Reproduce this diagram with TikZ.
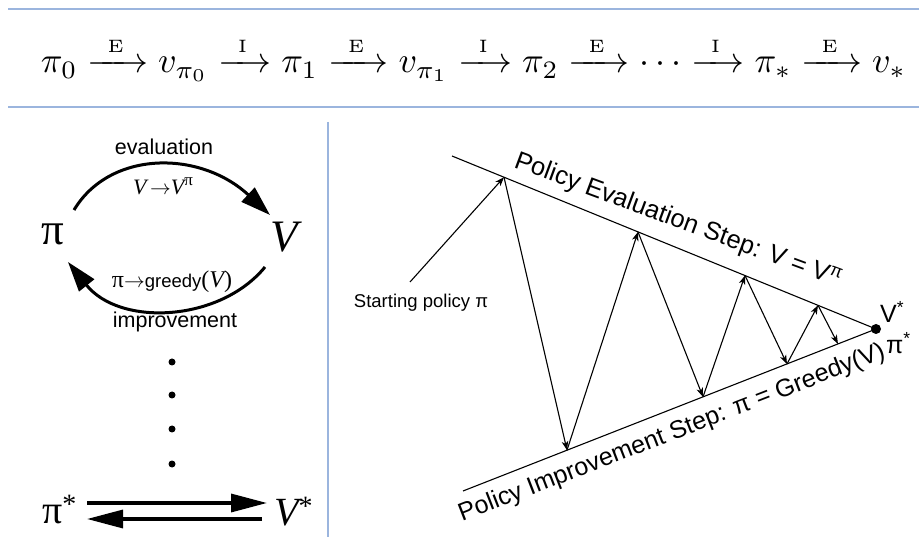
\documentclass[tikz,border=0pt]{standalone}
\usepackage{amsmath}
\usepackage{graphicx}
\usepackage[no-math]{fontspec}
\newfontfamily\sansf{Liberation Sans}
\newfontfamily\seriff{Liberation Serif}
\usetikzlibrary{arrows.meta}
\definecolor{rulecol}{RGB}{155,181,222}
\newcommand{\stepArrow}[1]{\xrightarrow{\hspace{0.3em}\scriptscriptstyle\mathrm{#1}\hspace{0.3em}}}
\begin{document}
\begin{tikzpicture}[x=1pt,y=-1pt,
  rulebar/.style={draw=rulecol, line width=2.2pt},
  bigarrow/.style={line width=3pt, -{Triangle[length=30pt,width=19pt]}},
  flatarrow/.style={line width=3.3pt, -{Triangle[length=36pt,width=18pt]}},
  thinarrow/.style={line width=1.1pt, -{Stealth[length=9pt,width=6.5pt,inset=2.5pt]}},
  guide/.style={line width=1.1pt},
  sanslabel/.style={font=\fontsize{21.5}{24}\sansf, inner sep=0pt},
  dotnode/.style={circle, fill, inner sep=0pt, minimum size=#1},
  steplabel/.style={font=\fontsize{25}{28}\sansf, inner sep=0pt, anchor=base west}
]
\useasboundingbox (0,0) rectangle (919,537);
% rules
\draw[rulebar] (8,9.3) -- (919,9.3);
\draw[rulebar] (8,107) -- (919,107);
\draw[rulebar] (327.7,122) -- (327.7,537);
% top equation
\node[anchor=base, inner sep=0pt] (eq) at (473.5,73) {\resizebox{865pt}{!}{$\pi_0 \stepArrow{E} v_{\pi_0} \stepArrow{I} \pi_1 \stepArrow{E} v_{\pi_1} \stepArrow{I} \pi_2 \stepArrow{E} \cdots \stepArrow{I} \pi_* \stepArrow{E} v_*$}};
% left panel
\node[font=\fontsize{45}{50}\seriff, anchor=base, inner sep=0pt] (pi) at (53,245) {π};
\node[font=\fontsize{45}{50}\seriff\itshape, anchor=base, inner sep=0pt] (V) at (284,252) {V};
\coordinate (a1) at (74,210);
\coordinate (a2) at (270,215);
\coordinate (b1) at (265,267);
\coordinate (b2) at (68,262);
\draw[bigarrow] (a1) .. controls (110,150) and (200,150) .. (a2);
\draw[bigarrow] (b1) .. controls (220,322) and (120,327) .. (b2);
\node[sanslabel, anchor=base] (evl) at (164,155) {evaluation};
\node[anchor=base, inner sep=0pt, font=\fontsize{22}{24}\seriff\itshape] (vvp) at (163,195) {V\,$\rightarrow$V\raisebox{0.45em}{\fontsize{17}{18}\selectfont\upshape π}};
\node[anchor=base, inner sep=0pt] (grd) at (172,288) {{\fontsize{24}{26}\seriff π}{\fontsize{22}{24}\selectfont$\rightarrow$}{\fontsize{18.5}{20}\sansf greedy}{\fontsize{24}{26}\seriff(\itshape V\upshape)}};
\node[sanslabel, anchor=base] (imp) at (175,328) {improvement};
\node[dotnode=7pt] (d1) at (172,362) {};
\node[dotnode=7pt] (d2) at (172,395) {};
\node[dotnode=7pt] (d3) at (172,429) {};
\node[dotnode=7pt] (d4) at (172,464) {};
\node[font=\fontsize{40}{44}\seriff, anchor=base west, inner sep=0pt] (pis) at (42,523) {π\textsuperscript{*}};
\node[font=\fontsize{40}{44}\seriff\itshape, anchor=base west, inner sep=0pt] (vs) at (274,525) {V\textsuperscript{\upshape *}};
\coordinate (t1) at (87,503);
\coordinate (t2) at (267,503);
\coordinate (r1) at (262,519);
\coordinate (r2) at (87,519);
\draw[flatarrow] (t1) -- (t2);
\draw[flatarrow] (r1) -- (r2);
% right panel
\coordinate (E0) at (452,156);
\coordinate (I0) at (463,491);
\node[dotnode=10pt] (dot) at (876,329) {};
\draw[guide] (E0) -- (dot.center);
\draw[guide] (I0) -- (dot.center);
\coordinate (u0) at (504,177.2);
\coordinate (l1) at (567,450.2);
\coordinate (u1) at (638,231.9);
\coordinate (l2) at (703,396.9);
\coordinate (u2) at (745,275.5);
\coordinate (l3) at (787,364.0);
\coordinate (u3) at (818,305.3);
\coordinate (l4) at (838,344.0);
\coordinate (st) at (410,282);
\node[font=\fontsize{18.5}{20}\sansf, inner sep=0pt] (start) at (421,303) {Starting policy π};
\draw[thinarrow] (st) -- (u0);
\draw[thinarrow] (u0) -- (l1);
\draw[thinarrow] (l1) -- (u1);
\draw[thinarrow] (u1) -- (l2);
\draw[thinarrow] (l2) -- (u2);
\draw[thinarrow] (u2) -- (l3);
\draw[thinarrow] (l3) -- (u3);
\draw[thinarrow] (u3) -- (l4);
\node[steplabel, font=\fontsize{25.5}{28}\sansf, rotate=-20.3] (evalstep) at (513,167) {Policy Evaluation Step: V = V\textsuperscript{π}};
\node[steplabel, rotate=21.2] (impstep) at (462,522) {Policy Improvement Step: π = Greedy(V)};
\node[font=\fontsize{25}{28}\sansf, anchor=base west, inner sep=0pt] (vlab) at (880,323) {V\textsuperscript{*}};
\node[font=\fontsize{25}{28}\sansf, anchor=base west, inner sep=0pt] (plab) at (886,354) {π\textsuperscript{*}};
\end{tikzpicture}
\end{document}
